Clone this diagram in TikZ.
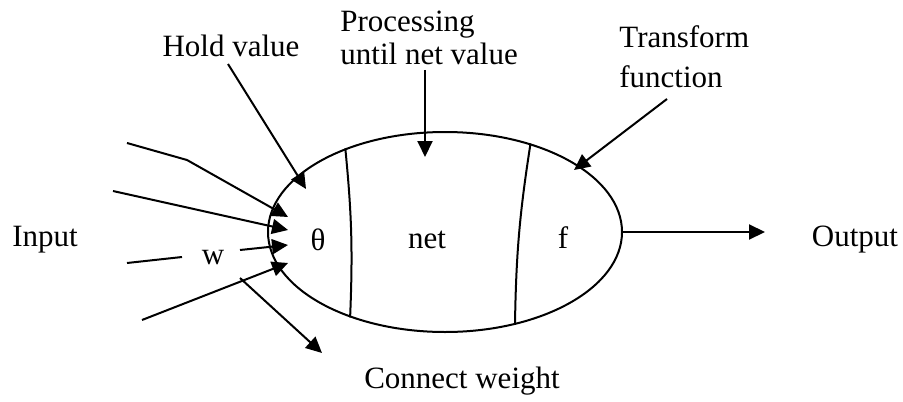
\documentclass[tikz,border=0pt]{standalone}
\usepackage{fontspec}
\setmainfont{Liberation Serif}
\usetikzlibrary{arrows.meta,shapes.geometric}
\tikzset{
  cellbody/.style={ellipse,draw=black,line width=1pt,
    minimum width=177pt,minimum height=100pt,inner sep=0pt},
  celltext/.style={font=\fontsize{15.5}{18}\selectfont,inner sep=0pt},
  cellnote/.style={font=\fontsize{15.5}{16.5}\selectfont,inner sep=0pt,align=left},
  cellarr/.style={-{Triangle[length=8pt,width=7.5pt]},line width=1pt},
  cellline/.style={line width=1pt},
}
\begin{document}
\begin{tikzpicture}[x=0.5pt,y=-0.5pt]
  \useasboundingbox (0,0) rectangle (903,401);
  \node[cellbody] (cell) at (445,232) {};
  \draw[cellline] (cell.140) to[bend left=4] (cell.222);
  \draw[cellline] (cell.46) to[bend right=4] (cell.307);

  \node[celltext] (theta) at (318,240) {θ};
  \node[celltext] (net) at (427,240) {net};
  \node[celltext] (f) at (563,238) {f};
  \node[celltext] (w) at (213,258) {w};

  \node[celltext] (input) at (45,240) {Input};
  \node[celltext] (output) at (855,240) {Output};
  \node[celltext] (hold) at (231,46) {Hold value};
  \node[cellnote, anchor=west] (proc) at (340,38) {Processing\\until net value};
  \node[cellnote, anchor=west, font=\fontsize{15.5}{20}\selectfont] (trans) at (619,57) {Transform\\function};
  \node[celltext] (conn) at (462,381) {Connect weight};

  % inputs
  \coordinate (i1) at (127,143);
  \coordinate (i1k) at (187,160);
  \coordinate (t1) at (288,217);
  \coordinate (i2) at (113,191);
  \coordinate (t2) at (288,230);
  \coordinate (i3) at (127,263);
  \coordinate (i3e) at (182,257);
  \coordinate (w3) at (240,250);
  \coordinate (t3) at (288,245);
  \coordinate (i4) at (142,320);
  \coordinate (t4) at (288,263);
  \draw[cellarr] (i1) -- (i1k) -- (t1);
  \draw[cellarr] (i2) -- (t2);
  \draw[cellline] (i3) -- (i3e);
  \draw[cellarr] (w3) -- (t3);
  \draw[cellarr] (i4) -- (t4);

  % labels
  \coordinate (hs) at (228,64);
  \coordinate (ht) at (306,189);
  \coordinate (ps) at (425,70);
  \coordinate (pt) at (425,157);
  \coordinate (ts) at (667,99);
  \coordinate (tt) at (574,170);
  \coordinate (cs) at (240,278);
  \coordinate (ct) at (322,353);
  \coordinate (ot) at (765,232);
  \draw[cellarr] (hs) -- (ht);
  \draw[cellarr] (ps) -- (pt);
  \draw[cellarr] (ts) -- (tt);
  \draw[cellarr] (cs) -- (ct);
  \draw[cellarr] (cell.east) -- (ot);
\end{tikzpicture}
\end{document}
